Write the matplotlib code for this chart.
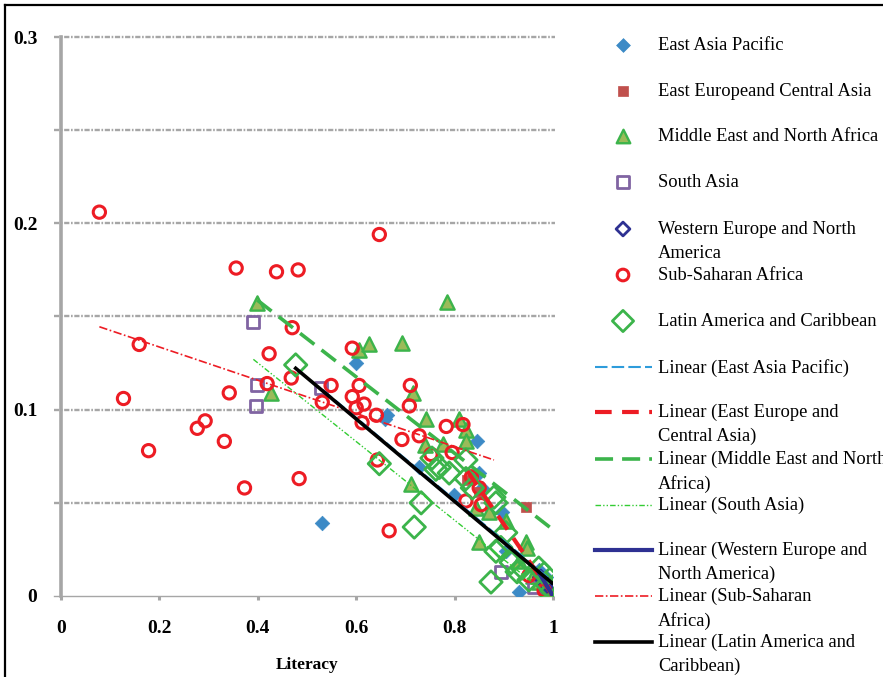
"""
Literacy vs. indicator by world region, with linear trend lines
"""
import numpy as np
import matplotlib.pyplot as plt
from matplotlib.lines import Line2D

plt.rcParams['font.family'] = ['Liberation Serif', 'DejaVu Serif']

# ----------------------------------------------------------------------
# data
eap_x = [0.600, 0.663, 0.659, 0.846, 0.531, 0.931, 0.850, 0.856, 0.896,
         0.986, 0.971, 0.904, 0.728, 0.799, 0.992]
eap_y = [0.125, 0.097, 0.095, 0.083, 0.039, 0.002, 0.066, 0.058, 0.045,
         0.010, 0.014, 0.024, 0.069, 0.054, 0.003]

eeca_x = [0.945, 0.826, 0.982, 0.992, 0.998, 0.966, 0.850]
eeca_y = [0.048, 0.062, 0.006, 0.002, 0.001, 0.009, 0.056]

mena_x = [0.399, 0.427, 0.606, 0.626, 0.694, 0.785, 0.716, 0.742, 0.740,
          0.777, 0.809, 0.823, 0.823, 0.712, 0.850, 0.945, 0.947, 0.905,
          0.870, 0.844, 0.998, 0.988, 0.972, 0.959, 0.931]
mena_y = [0.157, 0.109, 0.132, 0.135, 0.136, 0.158, 0.109, 0.095, 0.081,
          0.0815, 0.095, 0.089, 0.083, 0.060, 0.029, 0.029, 0.026, 0.040,
          0.045, 0.047, 0.001, 0.003, 0.0075, 0.011, 0.019]

sa_x = [0.391, 0.399, 0.397, 0.529, 0.894, 0.961]
sa_y = [0.147, 0.113, 0.102, 0.1115, 0.013, 0.005]

wena_x = [0.975, 0.985, 0.990, 0.995, 1.000, 0.998]
wena_y = [0.010, 0.006, 0.003, 0.004, 0.001, 0.000]

ssa_x = [0.078, 0.127, 0.159, 0.178, 0.277, 0.293, 0.332, 0.342, 0.373,
         0.356, 0.438, 0.482, 0.423, 0.470, 0.419, 0.468, 0.484, 0.549,
         0.531, 0.647, 0.592, 0.606, 0.592, 0.616, 0.600, 0.641, 0.612,
         0.710, 0.708, 0.693, 0.728, 0.783, 0.817, 0.752, 0.795, 0.643,
         0.667, 0.823, 0.854, 0.850, 0.834, 0.982, 0.951]
ssa_y = [0.206, 0.106, 0.135, 0.078, 0.090, 0.094, 0.083, 0.109, 0.058,
         0.176, 0.174, 0.175, 0.130, 0.144, 0.114, 0.117, 0.063, 0.113,
         0.104, 0.194, 0.133, 0.113, 0.107, 0.103, 0.101, 0.097, 0.093,
         0.113, 0.102, 0.084, 0.086, 0.091, 0.092, 0.076, 0.077, 0.073,
         0.035, 0.051, 0.049, 0.058, 0.064, 0.003, 0.011]

lac_x = [0.477, 0.647, 0.732, 0.718, 0.874, 0.754, 0.762, 0.789, 0.769,
         0.823, 0.823, 0.880, 0.836, 0.884, 0.904, 0.894, 0.915, 0.884,
         0.937, 0.951, 0.971, 0.982, 0.998, 0.927, 0.988]
lac_y = [0.124, 0.071, 0.050, 0.037, 0.0075, 0.074, 0.068, 0.066, 0.069,
         0.073, 0.063, 0.053, 0.058, 0.050, 0.034, 0.026, 0.018, 0.024,
         0.015, 0.0086, 0.015, 0.012, 0.003, 0.013, 0.006]

# trend line end points (x0, x1), (y0, y1)
eap_trend = ([0.531, 0.990], [0.1108, 0.0098])
eeca_trend = ([0.826, 1.000], [0.0670, 0.0000])
mena_trend = ([0.399, 0.998], [0.1588, 0.0360])
sa_trend = ([0.391, 0.961], [0.1270, 0.0067])
wena_trend = ([0.972, 1.000], [0.0123, 0.0000])
ssa_trend = ([0.078, 0.880], [0.1445, 0.0730])
lac_trend = ([0.477, 0.998], [0.1222, 0.0070])

# ----------------------------------------------------------------------
W, H = 883, 677
fig = plt.figure(figsize=(W/100, H/100), dpi=100)
ax = fig.add_axes([61/W, (H-596)/H, (553-61)/W, (596-37)/H])

grey = '#A6A6A6'
green = '#3CB44B'

# gridlines every 0.05, sticking out left like tick marks
for yv in np.arange(0.05, 0.301, 0.05):
    ax.plot([-0.015, 1.005], [yv, yv], color=grey, lw=1.7,
            ls=(0, (2.2, 0.7, 0.7, 0.7)), clip_on=False, zorder=1)

marker_styles = dict(
    eap=dict(marker='D', s=55, facecolor='#3C8AC6', edgecolor='#3C8AC6', lw=0.5),
    eeca=dict(marker='s', s=55, facecolor='#C0504D', edgecolor='#C0504D', lw=0.5),
    mena=dict(marker='^', s=105, facecolor='#9BBB59', edgecolor=green, lw=1.7),
    sa=dict(marker='s', s=75, facecolor='none', edgecolor='#8064A2', lw=2.0),
    wena=dict(marker='D', s=55, facecolor='none', edgecolor='#2E3192', lw=2.0),
    ssa=dict(marker='o', s=78, facecolor='none', edgecolor='#ED1C24', lw=2.2),
    lac=dict(marker='D', s=130, facecolor='none', edgecolor=green, lw=2.0),
)

ax.scatter(eap_x, eap_y, zorder=3, **marker_styles['eap'])
ax.scatter(eeca_x, eeca_y, zorder=3, **marker_styles['eeca'])
ax.scatter(mena_x, mena_y, zorder=3, **marker_styles['mena'])
ax.scatter(sa_x, sa_y, zorder=3, **marker_styles['sa'])
ax.scatter(wena_x, wena_y, zorder=3, **marker_styles['wena'])
ax.scatter(ssa_x, ssa_y, zorder=3, **marker_styles['ssa'])
ax.scatter(lac_x, lac_y, zorder=3, **marker_styles['lac'])

line_styles = dict(
    eap=dict(color='#2E9CDB', lw=1.5, ls=(0, (6, 2))),
    eeca=dict(color='#ED1C24', lw=3.0, ls=(0, (4, 2.5))),
    mena=dict(color=green, lw=2.6, ls=(0, (5, 2.5))),
    sa=dict(color='#33CC33', lw=1.0, ls=(0, (4, 1.5, 1, 1.5, 1, 1.5))),
    wena=dict(color='#2E3192', lw=3.0, ls='-'),
    ssa=dict(color='#ED1C24', lw=1.2, ls=(0, (5, 1.5, 1, 1.5))),
    lac=dict(color='black', lw=2.6, ls='-'),
)

for key, (tx, ty) in zip(['eap', 'eeca', 'mena', 'sa', 'wena', 'ssa', 'lac'],
                         [eap_trend, eeca_trend, mena_trend, sa_trend,
                          wena_trend, ssa_trend, lac_trend]):
    ax.plot(tx, ty, zorder=4, **line_styles[key])

ax.set_xlim(0, 1)
ax.set_ylim(0, 0.3)
ax.set_xticks([0, 0.2, 0.4, 0.6, 0.8, 1])
ax.set_xticklabels(['0', '0.2', '0.4', '0.6', '0.8', '1'])
ax.set_yticks([0, 0.1, 0.2, 0.3])
ax.set_yticklabels(['0', '0.1', '0.2', '0.3'])
ax.tick_params(axis='x', direction='out', length=3, width=2.2, color=grey,
               pad=14, labelsize=14)
ax.tick_params(axis='y', length=0, pad=17, labelsize=14)
for lab in ax.get_xticklabels() + ax.get_yticklabels():
    lab.set_fontweight('bold')
ax.set_xlabel('Literacy', fontsize=12.5, fontweight='bold', labelpad=15)
ax.spines['top'].set_visible(False)
ax.spines['right'].set_visible(False)
ax.spines['left'].set_color(grey)
ax.spines['left'].set_linewidth(2.6)
ax.spines['bottom'].set_color(grey)
ax.spines['bottom'].set_linewidth(1.0)
ax.spines['bottom'].set_bounds(-0.015, 1.0)

# ----------------------------------------------------------------------
# legend drawn by hand in pixel coordinates (Excel-style spacing)
lax = fig.add_axes([0, 0, 1, 1])
lax.set_xlim(0, W)
lax.set_ylim(H, 0)
lax.axis('off')
lax.patch.set_visible(False)

marker_keys = ['eap', 'eeca', 'mena', 'sa', 'wena', 'ssa', 'lac']
marker_labels = ['East Asia Pacific', 'East Europeand Central Asia',
                 'Middle East and North Africa', 'South Asia',
                 'Western Europe and North\nAmerica', 'Sub-Saharan Africa',
                 'Latin America and Caribbean']
line_labels = ['Linear (East Asia Pacific)',
               'Linear (East Europe and\nCentral Asia)',
               'Linear (Middle East and North\nAfrica)',
               'Linear (South Asia)',
               'Linear (Western Europe and\nNorth America)',
               'Linear (Sub-Saharan\nAfrica)',
               'Linear (Latin America and\nCaribbean)']
marker_rows = [45, 91, 136, 182, 229, 275, 321]
line_rows = [367, 412, 459, 505, 550, 596, 642]

for key, lab, yy in zip(marker_keys, marker_labels, marker_rows):
    st = dict(marker_styles[key])
    st['s'] = st['s'] * 0.9
    lax.scatter([623], [yy], clip_on=False, **st)
    lax.text(658, yy - 8, lab, fontsize=13.3, va='top', ha='left',
             linespacing=1.5)

for key, lab, yy in zip(marker_keys, line_labels, line_rows):
    lax.plot([595, 652], [yy, yy], **line_styles[key])
    lax.text(658, yy - 8, lab, fontsize=13.3, va='top', ha='left',
             linespacing=1.5)

# outer frame (only the left and top edges fall inside the picture)
fig.add_artist(Line2D([5/W, 5/W], [0, 1 - 5/H], color='black', lw=1.6))
fig.add_artist(Line2D([5/W, 1], [1 - 5/H, 1 - 5/H], color='black', lw=1.6))

fig.savefig('out.png', dpi=100)
